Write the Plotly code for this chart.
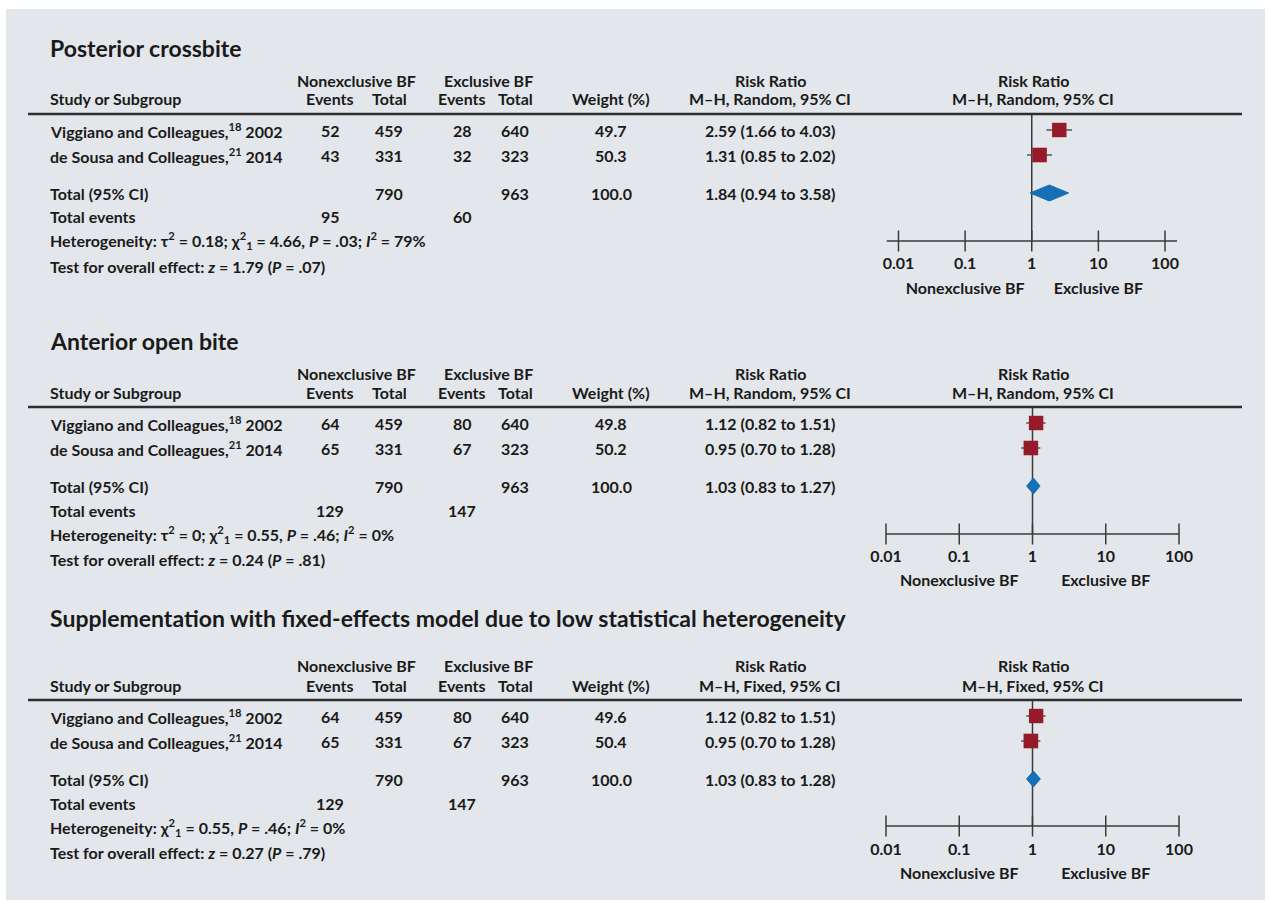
import plotly.graph_objects as go

W, H = 1269, 903
FONT = "Lato"
INK = "#1a1a1a"
PANEL_BG = "#e3e7eb"
SQUARE = "#961a2a"
DIAMOND = "#1670b8"
RULE = "#2e2e2e"
BODY = 16
TITLE = 23

# ---------------- data ----------------
studies = ["Viggiano and Colleagues,<sup>18</sup> 2002",
           "de Sousa and Colleagues,<sup>21</sup> 2014"]
tick_values = [0.01, 0.1, 1, 10, 100]
tick_labels = ["0.01", "0.1", "1", "10", "100"]
favours_labels = ["Nonexclusive BF", "Exclusive BF"]
favours_at = [0.1, 10]

section_titles = ["Posterior crossbite",
                  "Anterior open bite",
                  "Supplementation with fixed-effects model due to low statistical heterogeneity"]
section_methods = ["M–H, Random, 95% CI", "M–H, Random, 95% CI", "M–H, Fixed, 95% CI"]

# Posterior crossbite (random effects)
pc_events_nonex = [52, 43]
pc_total_nonex = [459, 331]
pc_events_ex = [28, 32]
pc_total_ex = [640, 323]
pc_weight = [49.7, 50.3]
pc_rr = [2.59, 1.31]
pc_lo = [1.66, 0.85]
pc_hi = [4.03, 2.02]
pc_pooled = [1.84, 0.94, 3.58]
pc_het = "Heterogeneity: τ<sup>2</sup> = 0.18; χ<sup>2</sup><sub>1</sub> = 4.66, <i>P</i> = .03; <i>I</i><sup>2</sup> = 79%"
pc_test = "Test for overall effect: <i>z</i> = 1.79 (<i>P</i> = .07)"

# Anterior open bite (random effects)
aob_events_nonex = [64, 65]
aob_total_nonex = [459, 331]
aob_events_ex = [80, 67]
aob_total_ex = [640, 323]
aob_weight = [49.8, 50.2]
aob_rr = [1.12, 0.95]
aob_lo = [0.82, 0.70]
aob_hi = [1.51, 1.28]
aob_pooled = [1.03, 0.83, 1.27]
aob_het = "Heterogeneity: τ<sup>2</sup> = 0; χ<sup>2</sup><sub>1</sub> = 0.55, <i>P</i> = .46; <i>I</i><sup>2</sup> = 0%"
aob_test = "Test for overall effect: <i>z</i> = 0.24 (<i>P</i> = .81)"

# Anterior open bite (fixed effects)
fx_events_nonex = [64, 65]
fx_total_nonex = [459, 331]
fx_events_ex = [80, 67]
fx_total_ex = [640, 323]
fx_weight = [49.6, 50.4]
fx_rr = [1.12, 0.95]
fx_lo = [0.82, 0.70]
fx_hi = [1.51, 1.28]
fx_pooled = [1.03, 0.83, 1.28]
fx_het = "Heterogeneity: χ<sup>2</sup><sub>1</sub> = 0.55, <i>P</i> = .46; <i>I</i><sup>2</sup> = 0%"
fx_test = "Test for overall effect: <i>z</i> = 0.27 (<i>P</i> = .79)"

sections = [
    (pc_events_nonex, pc_total_nonex, pc_events_ex, pc_total_ex, pc_weight,
     pc_rr, pc_lo, pc_hi, pc_pooled, pc_het, pc_test),
    (aob_events_nonex, aob_total_nonex, aob_events_ex, aob_total_ex, aob_weight,
     aob_rr, aob_lo, aob_hi, aob_pooled, aob_het, aob_test),
    (fx_events_nonex, fx_total_nonex, fx_events_ex, fx_total_ex, fx_weight,
     fx_rr, fx_lo, fx_hi, fx_pooled, fx_het, fx_test),
]

# ---------------- layout geometry (pixels) ----------------
# vertical positions of each block's rows
geo = [
    dict(title=48, h1=80, h2=99, rule=114, rows=[130, 155], total=193, events=217,
         het=241, test=266, axis=241, ticklab=265, favours=290),
    dict(title=341, h1=373, h2=392, rule=407, rows=[423, 448], total=486, events=510,
         het=534, test=559, axis=534, ticklab=558, favours=582),
    dict(title=618, h1=665, h2=685, rule=700, rows=[716, 741], total=779, events=803,
         het=827, test=852, axis=826, ticklab=851, favours=875),
]
# horizontal placement of the log axes: (left px, right px, log10 range)
axis_geo = [
    (886.5, 1177.0, [-2.18, 2.18]),
    (886.0, 1179.0, [-2.0, 2.0]),
    (886.0, 1179.0, [-2.0, 2.0]),
]

COL_LABEL = 48
COL_EV_N, COL_TOT_N = 330, 389
COL_EV_E, COL_TOT_E = 462, 515
COL_W = 611
COL_RR = 770
COL_PLOT = 1033

annotations = []
shapes = []


def px(x):
    return x / W


def py(y):
    return 1 - y / H


def txt(x, y, s, anchor="center", size=BODY, weight="bold"):
    annotations.append(dict(
        x=px(x), y=py(y), xref="paper", yref="paper", text=s, showarrow=False,
        xanchor=anchor, yanchor="middle",
        font=dict(family=FONT, size=size, color=INK, weight=weight)))


# panel background
shapes.append(dict(type="rect", xref="paper", yref="paper", x0=px(6), x1=px(1265),
                   y0=py(900), y1=py(9), fillcolor=PANEL_BG, line=dict(width=0),
                   layer="below"))

fig = go.Figure()

for k, (sec, g) in enumerate(zip(sections, geo)):
    (ev_n, tot_n, ev_e, tot_e, wts, rr, lo, hi, pooled, het, test) = sec
    xa = "x" if k == 0 else f"x{k + 1}"

    # titles and headers
    txt(COL_LABEL, g["title"], section_titles[k], anchor="left", size=TITLE)
    txt(356, g["h1"], "Nonexclusive BF")
    txt(488, g["h1"], "Exclusive BF")
    txt(COL_RR, g["h1"], "Risk Ratio")
    txt(COL_PLOT, g["h1"], "Risk Ratio")
    txt(COL_LABEL, g["h2"], "Study or Subgroup", anchor="left")
    txt(COL_EV_N, g["h2"], "Events")
    txt(COL_TOT_N, g["h2"], "Total")
    txt(COL_EV_E, g["h2"], "Events")
    txt(COL_TOT_E, g["h2"], "Total")
    txt(COL_W, g["h2"], "Weight (%)")
    txt(COL_RR, g["h2"], section_methods[k])
    txt(COL_PLOT, g["h2"], section_methods[k])

    shapes.append(dict(type="line", xref="paper", yref="paper", x0=px(28), x1=px(1242),
                       y0=py(g["rule"]), y1=py(g["rule"]),
                       line=dict(color=RULE, width=2.5)))

    # study rows
    for i, name in enumerate(studies):
        y = g["rows"][i]
        txt(COL_LABEL, y, name, anchor="left")
        txt(COL_EV_N, y, str(ev_n[i]))
        txt(COL_TOT_N, y, str(tot_n[i]))
        txt(COL_EV_E, y, str(ev_e[i]))
        txt(COL_TOT_E, y, str(tot_e[i]))
        txt(COL_W, y, f"{wts[i]:.1f}")
        txt(COL_RR, y, f"{rr[i]:.2f} ({lo[i]:.2f} to {hi[i]:.2f})")

    # total rows
    txt(COL_LABEL, g["total"], "Total (95% CI)", anchor="left")
    txt(COL_TOT_N, g["total"], str(sum(tot_n)))
    txt(COL_TOT_E, g["total"], str(sum(tot_e)))
    txt(COL_W, g["total"], f"{sum(wts):.1f}")
    txt(COL_RR, g["total"], f"{pooled[0]:.2f} ({pooled[1]:.2f} to {pooled[2]:.2f})")
    txt(COL_LABEL, g["events"], "Total events", anchor="left")
    txt(COL_EV_N, g["events"], str(sum(ev_n)))
    txt(COL_EV_E, g["events"], str(sum(ev_e)))
    txt(COL_LABEL, g["het"], het, anchor="left")
    txt(COL_LABEL, g["test"], test, anchor="left")

    # ---- forest plot ----
    lo_r, hi_r = 10 ** axis_geo[k][2][0], 10 ** axis_geo[k][2][1]
    common = dict(xaxis=xa, yaxis="y", hoverinfo="skip", showlegend=False)

    # line of no effect
    fig.add_trace(go.Scatter(x=[1, 1], y=[g["rule"], g["axis"]], mode="lines",
                             line=dict(color="#3a3a3a", width=1.5), **common))
    # axis line and ticks
    fig.add_trace(go.Scatter(x=[lo_r, hi_r], y=[g["axis"], g["axis"]], mode="lines",
                             line=dict(color="#3a3a3a", width=1.5), **common))
    fig.add_trace(go.Scatter(x=tick_values, y=[g["axis"]] * len(tick_values),
                             mode="markers", cliponaxis=False,
                             marker=dict(symbol="line-ns", size=15,
                                         line=dict(color="#3a3a3a", width=1.5)),
                             **common))
    fig.add_trace(go.Scatter(x=tick_values, y=[g["ticklab"]] * len(tick_values),
                             mode="text", text=tick_labels, cliponaxis=False,
                             textfont=dict(family=FONT, size=BODY, color=INK, weight="bold"),
                             **common))
    fig.add_trace(go.Scatter(x=favours_at, y=[g["favours"]] * 2, mode="text",
                             text=favours_labels, cliponaxis=False,
                             textfont=dict(family=FONT, size=BODY, color=INK, weight="bold"),
                             **common))

    # confidence intervals and point estimates
    for i in range(len(rr)):
        y = g["rows"][i]
        fig.add_trace(go.Scatter(x=[lo[i], hi[i]], y=[y, y], mode="lines",
                                 line=dict(color="#555555", width=1.5), **common))
    fig.add_trace(go.Scatter(x=rr, y=g["rows"], mode="markers", cliponaxis=False,
                             opacity=1,
                             marker=dict(symbol="square", color=SQUARE, opacity=1,
                                         size=[0.29 * w for w in wts],
                                         line=dict(width=0)),
                             **common))
    # pooled estimate diamond
    yt = g["total"]
    fig.add_trace(go.Scatter(x=[pooled[1], pooled[0], pooled[2], pooled[0], pooled[1]],
                             y=[yt, yt - 8, yt, yt + 8, yt], mode="lines",
                             fill="toself", fillcolor=DIAMOND,
                             line=dict(color=DIAMOND, width=1), **common))

layout_axes = {}
for k, (x0, x1, rng) in enumerate(axis_geo):
    name = "xaxis" if k == 0 else f"xaxis{k + 1}"
    layout_axes[name] = dict(type="log", range=rng, domain=[px(x0), px(x1)],
                             anchor="y", visible=False, fixedrange=True)

fig.update_layout(
    width=W, height=H,
    margin=dict(l=0, r=0, t=0, b=0),
    paper_bgcolor="white",
    plot_bgcolor="rgba(0,0,0,0)",
    yaxis=dict(range=[H, 0], domain=[0, 1], visible=False, fixedrange=True),
    annotations=annotations,
    shapes=shapes,
    showlegend=False,
    **layout_axes,
)

fig.write_html("out.html")
